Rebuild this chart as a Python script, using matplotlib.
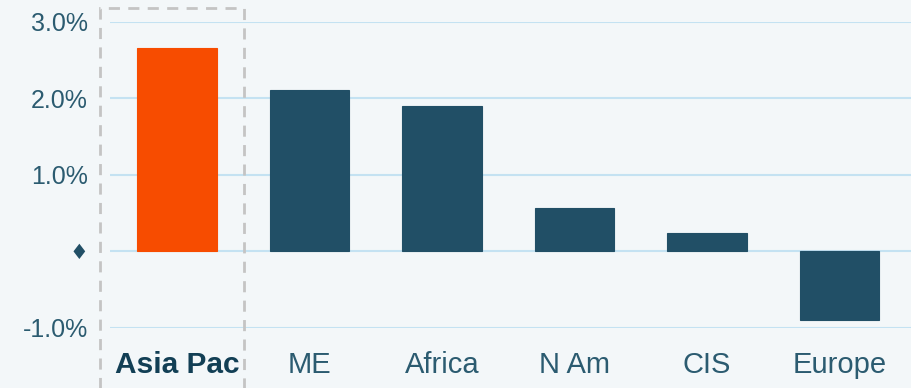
import matplotlib.pyplot as plt
import matplotlib.transforms as mtransforms
from matplotlib.patches import Rectangle

# growth by region, percent
regions = ['Asia Pac', 'ME', 'Africa', 'N Am', 'CIS', 'Europe']
growth = [2.65, 2.10, 1.89, 0.56, 0.24, -0.90]
highlight = 'Asia Pac'

y_ticks = [-1.0, 0.0, 1.0, 2.0, 3.0]
y_labels = ['-1.0%', '\u2666', '1.0%', '2.0%', '3.0%']

bg = '#f3f7f9'
navy = '#214f66'
orange = '#f74c00'
grid_col = '#c4e2f2'
text_col = '#2b5b70'

plt.rcParams['font.family'] = ['Liberation Sans', 'DejaVu Sans']

fig = plt.figure(figsize=(9.11, 3.88), dpi=100, facecolor=bg)
ax = fig.add_axes([110 / 911, 1 - 327.5 / 388, 801 / 911, 306 / 388])
ax.set_facecolor(bg)

x = list(range(len(regions)))
colors = [orange if r == highlight else navy for r in regions]
ax.bar(x, growth, width=0.6, color=colors, edgecolor=colors, linewidth=0.8, zorder=3)

ax.set_xlim(-0.506, 5.54)
ax.set_ylim(-1.0, 3.0)
ax.set_yticks(y_ticks)
ax.set_yticklabels(y_labels)
ax.yaxis.grid(True, color=grid_col, linewidth=1.5, zorder=0)
ax.set_xticks(x)
ax.set_xticklabels(regions)
ax.tick_params(axis='both', length=0)
ax.tick_params(axis='y', labelsize=18, labelcolor=text_col, pad=16)
ax.tick_params(axis='x', labelsize=21, labelcolor=text_col, pad=17)
for lbl in ax.get_xticklabels():
    if lbl.get_text() == highlight:
        lbl.set_fontweight('bold')
        lbl.set_color('#123f55')
        lbl.set_fontsize(21.5)
for lbl in ax.get_yticklabels():
    if lbl.get_text() == '\u2666':
        lbl.set_family('DejaVu Sans')
        lbl.set_color(navy)
        lbl.set_fontsize(15)
for s in ax.spines.values():
    s.set_visible(False)

# dashed frame around the highlighted region
i = regions.index(highlight)
trans = mtransforms.blended_transform_factory(ax.transData, fig.transFigure)
box = Rectangle((i - 0.585, -0.1), 1.09, 1.08, transform=trans, fill=False,
                edgecolor='#c4c4c4', linestyle=(0, (4, 3)), linewidth=2,
                clip_on=False, zorder=5)
fig.add_artist(box)

fig.savefig('out.png', dpi=100, facecolor=bg)
